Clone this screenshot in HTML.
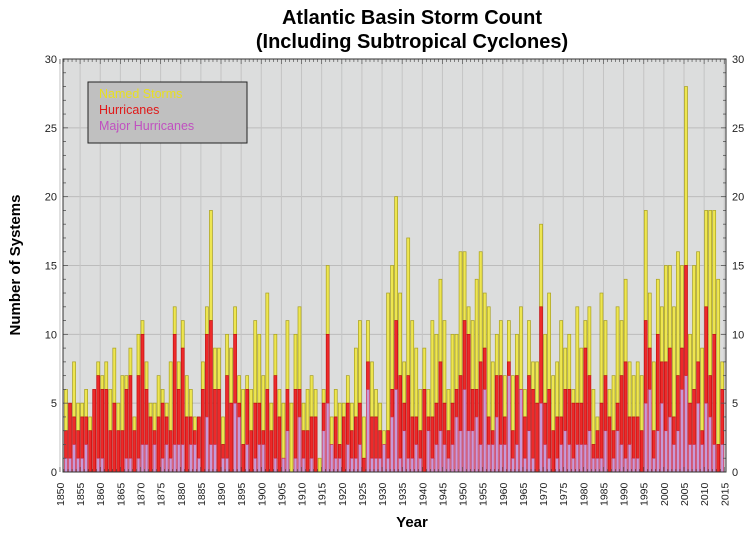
<!DOCTYPE html>
<html><head><meta charset="utf-8"><style>
body{margin:0;background:#fff;}
svg{display:block;font-family:"Liberation Sans",Arial,sans-serif;}
</style></head><body>
<svg id="chart" width="754" height="536" viewBox="0 0 754 536">
<text x="412" y="24" text-anchor="middle" font-size="20" font-weight="bold">Atlantic Basin Storm Count</text>
<text x="412" y="48" text-anchor="middle" font-size="20" font-weight="bold">(Including Subtropical Cyclones)</text>
<rect x="63" y="59" width="663" height="413" fill="#dcdddd"/>
<g id="grid"></g>
<g id="bars"></g>
<g id="axes"></g>
<rect x="63" y="59" width="663" height="413" fill="none" stroke="#333" stroke-width="1"/>
<g>
<rect x="88" y="82" width="159" height="61" fill="#c0c0c0" stroke="#222" stroke-width="1"/>
<text x="99" y="98" font-size="12.5" fill="#e8e020">Named Storms</text>
<text x="99" y="114" font-size="12.5" fill="#e01818">Hurricanes</text>
<text x="99" y="130" font-size="12.5" fill="#c050c0">Major Hurricanes</text>
</g>
<text transform="translate(20,265) rotate(-90)" text-anchor="middle" font-size="15" font-weight="bold">Number of Systems</text>
<text x="412" y="527" text-anchor="middle" font-size="15" font-weight="bold">Year</text>
</svg>
<script>
const startYear = 1851;
const namedStorms = [6,5,8,5,5,6,4,6,8,7,8,6,9,5,7,7,9,4,10,11,8,5,5,7,6,5,8,12,8,11,7,6,4,4,8,12,19,9,9,4,10,9,12,7,6,7,6,11,10,7,13,5,10,6,5,11,5,10,12,5,6,7,6,1,6,15,4,6,5,5,7,5,9,11,4,11,8,6,5,3,13,15,20,13,8,17,11,9,6,9,6,11,10,14,11,6,10,10,16,16,12,11,14,16,13,12,8,10,11,7,11,7,10,12,6,11,8,8,18,10,13,7,8,11,9,10,6,12,9,11,12,6,4,13,11,6,7,12,11,14,8,7,8,7,19,13,8,14,12,15,15,12,16,15,28,10,15,16,9,19,19,19,14,8];
const hurricanes = [3,5,4,3,4,4,3,6,7,6,6,3,5,3,3,6,7,3,7,10,6,4,3,4,5,4,3,10,6,9,4,4,3,4,6,10,11,6,6,2,7,5,10,5,2,6,3,5,5,3,6,3,7,4,1,6,0,6,6,3,3,4,4,0,5,10,2,4,2,4,5,3,4,5,1,8,4,4,3,2,3,6,11,7,5,7,4,4,3,6,4,4,5,8,5,3,5,6,7,11,10,6,6,8,9,4,3,7,7,4,8,3,7,6,4,7,6,5,12,5,6,3,4,4,6,6,5,5,5,9,7,2,3,5,7,4,3,5,7,8,4,4,4,3,11,9,3,10,8,8,9,4,7,9,15,5,6,8,3,12,7,10,2,6];
const majors = [1,1,2,1,1,2,0,0,1,1,0,0,0,0,0,1,1,0,1,2,2,0,2,0,1,2,1,2,2,2,0,2,2,1,0,4,2,2,0,1,1,0,5,4,0,2,0,1,2,2,0,0,1,0,1,3,0,1,4,1,0,1,0,0,3,5,2,1,1,0,2,1,1,2,0,6,1,1,1,2,1,4,6,1,3,1,1,2,1,0,3,1,2,3,2,1,2,4,3,6,3,3,4,2,6,2,2,4,2,2,7,1,2,6,1,3,1,0,5,2,1,0,1,2,3,2,1,2,2,2,3,1,1,1,3,0,1,3,2,1,2,1,1,0,5,6,1,3,5,3,4,2,3,6,7,2,2,5,2,5,4,2,0,2];
const yTicks = [0,5,10,15,20,25,30];
const xTickYears = [1850,1855,1860,1865,1870,1875,1880,1885,1890,1895,1900,1905,1910,1915,1920,1925,1930,1935,1940,1945,1950,1955,1960,1965,1970,1975,1980,1985,1990,1995,2000,2005,2010,2015];

const NS="http://www.w3.org/2000/svg";
const PL=63, PR=726, PT=59, PB=472;
function yS(v){return PB-(v/30)*(PB-PT);}
function xS(yr){return 66+(yr-1851)*4.026;}
function mk(t,a,p){const e=document.createElementNS(NS,t);for(const k in a)e.setAttribute(k,a[k]);p.appendChild(e);return e;}
const grid=document.getElementById('grid'), bars=document.getElementById('bars'), axes=document.getElementById('axes');

yTicks.forEach(v=>{
  const g=mk('line',{x1:PL,x2:PR,y1:yS(v),y2:yS(v),stroke:'#bcbcbc','stroke-width':1},grid);
  
  
  const t1=mk('text',{x:PL-6,y:yS(v)+4,'text-anchor':'end','font-size':11,fill:'#222'},axes);
  t1.textContent=v;
  
  
  const t2=mk('text',{x:PR+6,y:yS(v)+4,'text-anchor':'start','font-size':11,fill:'#222'},axes);
  t2.textContent=v;
  
  
});
for(let v=0;v<=30;v++){
  mk('line',{x1:PL,x2:PL+(v%5?3:5),y1:yS(v),y2:yS(v),stroke:'#555','stroke-width':0.8},axes);
  mk('line',{x1:PR,x2:PR-(v%5?3:5),y1:yS(v),y2:yS(v),stroke:'#555','stroke-width':0.8},axes);
}
xTickYears.forEach(yr=>{
  const x=xS(yr)-2;
  const g=mk('line',{x1:x,x2:x,y1:PT,y2:PB,stroke:'#c4c4c4','stroke-width':1},grid);
  
  
  const t=mk('text',{transform:`translate(${x+4},${PB+34}) rotate(-90)`,'font-size':10.5,fill:'#222'},axes);
  t.textContent=yr;
  
  
});
for(let yr=1850;yr<=2015;yr++){
  const x=xS(yr)-2;
  mk('line',{x1:x,x2:x,y1:PT,y2:PT+(yr%5?3:5),stroke:'#555','stroke-width':0.7},axes);
  mk('line',{x1:x,x2:x,y1:PB,y2:PB-(yr%5?3:5),stroke:'#555','stroke-width':0.7},axes);
}
namedStorms.forEach((n,i)=>{
  const yr=startYear+i, cx=xS(yr), w=3.0, x=cx-w/2;
  const h=hurricanes[i], m=majors[i];
  if(n>h){
    const r=mk('rect',{x:x,y:yS(n),width:w,height:yS(h)-yS(n),fill:'#eee650',stroke:'#a8a020','stroke-width':0.7},bars);
    
    
  }
  if(h>m){
    const r=mk('rect',{x:x,y:yS(h),width:w,height:yS(m)-yS(h),fill:'#ee2a2a',stroke:'#c01010','stroke-width':0.7},bars);
    
    
  }
  if(m>0){
    const r=mk('rect',{x:x,y:yS(m),width:w,height:yS(0)-yS(m),fill:'#c69ad8',stroke:'#d03050','stroke-width':0.7},bars);
    
    
  }
});
</script>
</body></html>
